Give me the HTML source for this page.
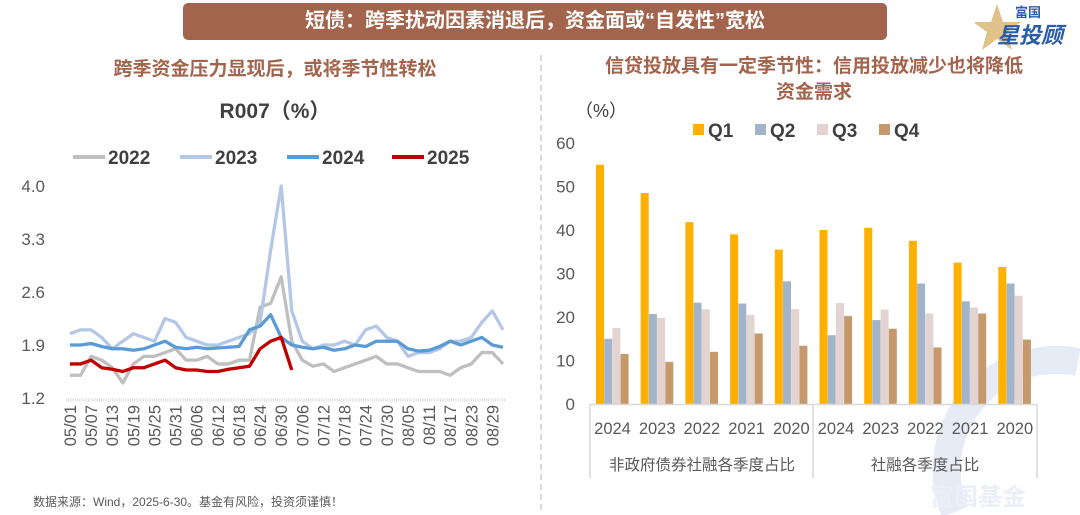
<!DOCTYPE html>
<html><head><meta charset="utf-8">
<style>
html,body{margin:0;width:1080px;height:515px;background:#fff;overflow:hidden;font-family:"Liberation Sans","Noto Sans CJK SC",sans-serif;position:relative}
.abs{position:absolute}
</style></head>
<body>
<div class="abs" style="left:183px;top:3px;width:704px;height:37px;background:#a3644d;border-radius:5px;color:#fff;font-weight:bold;font-size:20px;line-height:37px;text-align:center">短债：跨季扰动因素消退后，资金面或“自发性”宽松</div>
<div class="abs" style="left:975px;top:2px;width:100px;height:50px">
<svg width="100" height="50"><polygon points="22,2 28,20 46,20 32,30 37,48 22,37 7,48 12,30 -2,20 16,20" fill="#d9b36a" opacity="0.8"/></svg>
<div class="abs" style="left:40px;top:0;font-size:13px;color:#2a5caa;font-weight:bold">富国</div>
<div class="abs" style="left:22px;top:16px;font-size:22px;color:#2a5caa;font-weight:bold;font-style:italic">星投顾</div>
</div>
<div class="abs" style="left:40px;top:54px;width:470px;text-align:center;color:#a3644d;font-weight:bold;font-size:19px">跨季资金压力显现后，或将季节性转松</div>
<div class="abs" style="left:548px;top:54px;width:532px;text-align:center;color:#a3644d;font-weight:bold;font-size:19px;line-height:26px">信贷投放具有一定季节性：信用投放减少也将降低<br>资金需求</div>
<div class="abs" style="left:540px;top:55px;height:455px;border-left:2px dashed #d9d9d9"></div>
<div class="abs" style="left:40px;top:95px;width:470px;text-align:center;color:#404040;font-weight:bold;font-size:21px">R007（%）</div>
<div class="abs" style="left:33px;top:495px;font-size:12px;line-height:14px;color:#595959">数据来源：Wind，2025-6-30。基金有风险，投资须谨慎！</div>

<svg class="abs" style="left:0;top:0;overflow:hidden" width="1080" height="515" id="svg">
<g opacity="0.35">
<path d="M955,512 A110,110 0 0 1 1078,362" fill="none" stroke="#b8c8e6" stroke-width="28"/>
<text x="930" y="505" font-size="24" font-weight="bold" fill="#c8d4ec" font-family="Liberation Sans, Noto Sans CJK SC, sans-serif">富国基金</text>
</g>
<g id="left"></g><g id="right"></g>
</svg>
<script>
const ns="http://www.w3.org/2000/svg";
function mk(p,t,a){const e=document.createElementNS(ns,t);for(const k in a)e.setAttribute(k,a[k]);p.appendChild(e);return e;}
const FONT='"Liberation Sans","Noto Sans CJK SC",sans-serif';

// ---- Left line chart data (every 3 days starting 05/01) ----
const dayIdx=[0,3,6,9,12,15,18,21,24,27,30,33,36,39,42,45,48,51,54,57,60,63,66,69,72,75,78,81,84,87,90,93,96,99,102,105,108,111,114,117,120,123];
const s2022=[1.5,1.5,1.75,1.7,1.6,1.4,1.65,1.75,1.75,1.8,1.85,1.7,1.7,1.75,1.65,1.65,1.7,1.7,2.4,2.45,2.8,1.95,1.7,1.62,1.65,1.55,1.6,1.65,1.7,1.75,1.65,1.65,1.6,1.55,1.55,1.55,1.5,1.6,1.65,1.8,1.8,1.65];
const s2023=[2.05,2.1,2.1,2.0,1.85,1.95,2.05,2.0,1.95,2.25,2.2,2.0,1.95,1.9,1.9,1.95,2.0,2.05,2.2,3.15,4.0,2.35,1.95,1.85,1.9,1.9,1.95,1.9,2.1,2.15,2.0,1.95,1.75,1.8,1.8,1.85,1.95,1.95,2.0,2.2,2.35,2.1];
const s2024=[1.9,1.9,1.92,1.88,1.85,1.85,1.83,1.85,1.9,1.95,1.87,1.85,1.87,1.85,1.86,1.87,1.88,2.1,2.15,2.3,2.0,1.9,1.87,1.85,1.87,1.83,1.85,1.9,1.88,1.95,1.95,1.95,1.85,1.82,1.83,1.88,1.95,1.9,1.95,2.0,1.9,1.87];
const s2025=[1.65,1.65,1.7,1.6,1.58,1.55,1.6,1.6,1.65,1.7,1.6,1.57,1.57,1.55,1.55,1.58,1.6,1.62,1.85,1.95,2.0,1.57,null,null,null,null,null,null,null,null,null,null,null,null,null,null,null,null,null,null,null,null];
const yTicksL=[1.2,1.9,2.6,3.3,4.0];
const xLabelsL=["05/01","05/07","05/13","05/19","05/25","05/31","06/06","06/12","06/18","06/24","06/30","07/06","07/12","07/18","07/24","07/30","08/05","08/11","08/17","08/23","08/29"];
const xLabelDays=[0,6,12,18,24,30,36,42,48,54,60,66,72,78,84,90,96,102,108,114,120];

const L=document.getElementById('left');
const xL=d=>70+d*3.52, yL=v=>398-(v-1.2)/2.8*212;
yTicksL.forEach(t=>{const e=mk(L,'text',{x:45,y:yL(t)+6,'text-anchor':'end','font-size':17,fill:'#595959','font-family':FONT});e.textContent=t.toFixed(1);

});
const ax=mk(L,'line',{x1:66,x2:505,y1:400,y2:400,stroke:'#d9d9d9','stroke-width':3,'stroke-dasharray':'1 1.2'});


xLabelsL.forEach((s,i)=>{const x=xL(xLabelDays[i])+6;const e=mk(L,'text',{x:0,y:0,transform:`translate(${x},405) rotate(-90)`,'text-anchor':'end','font-size':16.5,fill:'#595959','font-family':FONT});e.textContent=s;

});
const series=[[s2022,'#bfbfbf','line-2022'],[s2023,'#b4c7e7','line-2023'],[s2024,'#5b9bd5','line-2024'],[s2025,'#c00000','line-2025']];
series.forEach(([s,c,n])=>{let d='';s.forEach((v,i)=>{if(v==null)return;d+=(d?'L':'M')+xL(dayIdx[i])+','+yL(v);});
const p=mk(L,'path',{d:d,fill:'none',stroke:c,'stroke-width':3.3,'stroke-linejoin':'round'});

});
const legL=[['2022','#bfbfbf',73],['2023','#b4c7e7',180],['2024','#5b9bd5',287],['2025','#c00000',392]];
legL.forEach(([t,c,x])=>{const g=mk(L,'g',{});


mk(g,'line',{x1:x,x2:x+32,y1:157,y2:157,stroke:c,'stroke-width':4});
const e=mk(g,'text',{x:x+35,y:164,'font-size':19,'font-weight':'bold',fill:'#404040','font-family':FONT});e.textContent=t;});

// ---- Right bar chart data ----
const catYears=["2024","2023","2022","2021","2020","2024","2023","2022","2021","2020"];
const groupNames=["非政府债券社融各季度占比","社融各季度占比"];
const q1=[55,48.5,41.8,39,35.5,40,40.5,37.5,32.5,31.5];
const q2=[15,20.7,23.3,23.1,28.2,15.8,19.3,27.7,23.6,27.7];
const q3=[17.5,19.8,21.8,20.5,21.8,23.2,21.7,20.8,22.2,24.9];
const q4=[11.5,9.7,12,16.2,13.4,20.2,17.3,13,20.8,14.8];
const yTicksR=[0,10,20,30,40,50,60];
const R=document.getElementById('right');
const yR=v=>404-v*4.35, gx=i=>590+i*44.7;
yTicksR.forEach(t=>{const e=mk(R,'text',{x:575,y:yR(t)+6,'text-anchor':'end','font-size':17,fill:'#595959','font-family':FONT});e.textContent=t;

});
const qs=[[q1,'#ffb000','Q1'],[q2,'#a2b4c9','Q2'],[q3,'#e3d4d1','Q3'],[q4,'#c6996c','Q4']];
qs.forEach(([arr,c,n],k)=>{arr.forEach((v,i)=>{const r=mk(R,'rect',{x:gx(i)+6+k*8.2,y:yR(v),width:8,height:v*4.35,fill:c});

});});
mk(R,'line',{x1:590,x2:1037,y1:404.5,y2:404.5,stroke:'#d9d9d9','stroke-width':1.5});
[590,813,1037].forEach(x=>mk(R,'line',{x1:x,x2:x,y1:404,y2:478,stroke:'#d9d9d9','stroke-width':1.5}));
catYears.forEach((s,i)=>{const e=mk(R,'text',{x:gx(i)+22.5,y:434,'text-anchor':'middle','font-size':16.5,fill:'#595959','font-family':FONT});e.textContent=s;

});
groupNames.forEach((s,i)=>{const e=mk(R,'text',{x:[702,925][i],y:470,'text-anchor':'middle','font-size':15.5,fill:'#595959','font-family':FONT});e.textContent=s;

});
const u=mk(R,'text',{x:575,y:117,'font-size':18,fill:'#404040','font-family':FONT});u.textContent='（%）';


qs.forEach(([a,c,n],k)=>{const x=693+k*62;const g=mk(R,'g',{});


mk(g,'rect',{x:x,y:124,width:11,height:11,fill:c});
const e=mk(g,'text',{x:x+15,y:137,'font-size':19,'font-weight':'bold',fill:'#404040','font-family':FONT});e.textContent=n;});
</script>
</body></html>
